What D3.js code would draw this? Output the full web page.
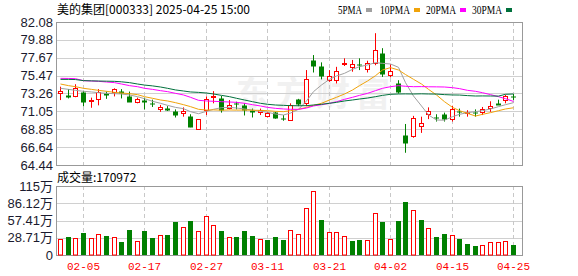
<!DOCTYPE html>
<html>
<head>
<meta charset="utf-8">
<script src="https://cdn.jsdelivr.net/npm/d3@7"></script>
<style>
body { margin: 0; background: #fff; }
</style>
</head>
<body>
<svg width="578" height="276"></svg>
<script>
var dates = ["2025-01-23","2025-01-24","2025-01-27",
"2025-02-05","2025-02-06","2025-02-07","2025-02-10","2025-02-11","2025-02-12","2025-02-13","2025-02-14",
"2025-02-17","2025-02-18","2025-02-19","2025-02-20","2025-02-21","2025-02-24","2025-02-25","2025-02-26","2025-02-27","2025-02-28",
"2025-03-03","2025-03-04","2025-03-05","2025-03-06","2025-03-07","2025-03-10","2025-03-11","2025-03-12","2025-03-13","2025-03-14",
"2025-03-17","2025-03-18","2025-03-19","2025-03-20","2025-03-21","2025-03-24","2025-03-25","2025-03-26","2025-03-27","2025-03-28","2025-03-31",
"2025-04-01","2025-04-02","2025-04-03","2025-04-07","2025-04-08","2025-04-09","2025-04-10","2025-04-11",
"2025-04-14","2025-04-15","2025-04-16","2025-04-17","2025-04-18","2025-04-21","2025-04-22","2025-04-23","2025-04-24","2025-04-25"];

var open = [73.4,73.1,72.95,73.5,72.3,72.55,73.35,73.45,73.6,72.95,
72.25,72.45,72.1,71.3,71.5,71.1,70.8,70.5,68.85,71.2,
72.9,72.65,71.45,72.05,71.85,71.2,70.95,70.5,70.95,70.2,
70.05,72.55,72.1,77.4,76.6,74.85,75.0,76.95,76.55,76.9,
76.35,77.05,78.2,75.5,74.6,68.2,68.0,69.25,70.7,70.4,
70.7,70.2,71.15,70.9,71.0,71.0,71.4,72.1,72.45,72.95];
var close = [73.6,72.8,73.9,72.25,72.4,73.45,73.1,73.8,73.4,72.25,
72.6,72.2,71.95,71.55,71.2,70.6,71.1,69.1,70.1,72.55,
73.0,71.15,71.85,71.95,71.25,70.9,71.2,70.9,70.15,70.05,
71.9,71.95,75.0,76.65,75.35,75.4,76.05,77.05,76.9,76.8,
77.05,78.6,75.65,76.0,73.55,67.2,70.2,69.6,71.1,70.3,
70.05,71.4,71.05,71.0,70.9,71.4,71.7,71.9,72.95,72.85];
var high = [74.1,73.8,74.4,73.6,72.75,73.8,73.5,73.9,73.8,73.5,
72.75,72.75,72.5,71.85,71.7,71.3,71.55,70.7,70.1,72.9,
73.55,72.95,72.45,72.25,72.05,71.4,71.4,71.0,71.0,70.6,
72.05,72.6,76.15,78.0,77.1,76.15,76.55,77.6,77.4,77.6,
77.3,80.7,78.85,76.85,74.9,69.5,70.5,70.4,71.55,70.7,
70.9,71.75,71.4,71.2,71.3,71.6,72.3,72.5,73.1,73.2];
var low = [72.45,72.65,72.8,71.7,71.5,71.8,72.6,72.9,72.65,72.25,
72.05,71.3,71.6,71.0,71.1,70.3,70.4,69.1,68.85,70.6,
72.05,70.9,71.3,71.3,70.55,70.3,70.6,70.3,70.15,69.9,
69.95,71.7,71.7,75.85,75.0,74.7,74.5,76.65,75.95,76.15,
75.85,76.75,75.3,75.25,73.25,65.95,67.8,68.4,70.1,69.8,
69.8,69.8,70.4,70.4,70.4,70.6,71.0,71.9,72.05,72.45];

// volume in 万 (10k lots), volUp: 1 = red, 0 = green
var volume = [26.7,30,28.3,37.2,28.3,35,31.7,30,22.2,41.7,
23.3,40,28.9,33.9,32.8,55,46.7,56.7,40,65,
50,40,30,29.4,40,31.7,26.7,25,30,25.6,
41.1,34.4,77.8,106.7,58.3,38.3,38.3,31.1,23.3,25,
25,69.4,55,26.1,56.7,88.3,74.4,58.3,44.4,30,
35,32.8,26.7,18.3,15,16.1,21.7,21.7,23.3,17.1];
var volUp = [1,0,1,0,1,1,0,1,0,0,
1,0,0,1,0,0,1,0,1,1,
1,0,1,0,0,0,1,0,0,0,
1,1,1,1,0,1,1,1,0,0,
1,1,0,1,0,0,1,0,1,0,
0,1,0,0,0,1,1,1,1,0];

var ma5 = [73.9,73.77,73.65,73.53,73.45,73.36,73.28,73.24,73.2,73.08,
72.87,72.62,72.3,72.05,71.8,71.55,71.39,71.02,70.77,71.06,
71.31,71.51,71.55,71.47,71.35,71.22,71.06,70.94,70.73,70.61,
70.85,71.31,72.34,73.49,74.31,75.01,75.42,75.75,76.24,76.57,
76.78,77.07,76.98,76.9,76.49,74.6,72.95,71.72,70.61,69.99,
69.97,70.4,70.69,70.9,71.02,71.14,71.35,71.64,71.88,72.13];
var ma10 = [74.43,74.23,74.1,73.9,73.77,73.65,73.53,73.4,73.32,73.24,
73.12,72.87,72.67,72.46,72.34,72.13,71.88,71.64,71.31,71.22,
71.24,71.2,71.23,71.21,71.22,71.2,71.18,71.14,71.06,71.02,
71.14,71.31,71.55,71.8,72.05,72.46,72.79,73.2,73.69,74.23,
74.8,75.46,76.16,76.45,76.16,75.6,75.01,74.43,73.77,73.08,
72.25,71.55,71.14,70.81,70.48,70.69,70.9,71.14,71.35,71.5];
var ma20 = [75.13,75.12,75.09,74.84,74.8,74.76,74.68,74.6,74.43,74.23,
74.1,73.9,73.77,73.61,73.49,73.28,73.08,72.79,72.42,72.34,
72.3,72.25,72.21,72.17,72.05,71.88,71.72,71.55,71.43,71.35,
71.31,71.3,71.47,71.72,71.88,72.05,72.25,72.54,72.79,73.03,
73.28,73.61,73.9,74.1,74.23,74.15,74.1,74.11,74.09,74.08,
74.06,73.98,73.86,73.65,73.53,73.36,73.12,72.87,72.62,72.28];
var ma30 = [75.0,75.0,74.98,74.85,74.82,74.8,74.78,74.76,74.7,74.6,
74.43,74.3,74.2,74.06,73.9,73.7,73.57,73.45,73.4,73.32,
73.2,73.03,72.87,72.67,72.46,72.25,72.05,71.93,71.84,71.8,
71.76,71.75,71.76,71.84,71.93,72.05,72.17,72.34,72.46,72.58,
72.7,72.87,73.03,73.16,73.2,73.21,73.2,73.22,73.2,73.19,
73.12,73.08,73.07,73.0,72.95,72.96,72.95,72.94,73.16,73.2];

var priceTicks = [64.44,66.64,68.85,71.05,73.26,75.47,77.67,79.88,82.08];
var volTicks = [0,28.71,57.41,86.12,114.83];
var volTickLabels = ["0","28.71万","57.41万","86.12万","115万"];
var dateTicks = ["2025-02-05","2025-02-17","2025-02-27","2025-03-11","2025-03-21","2025-04-02","2025-04-15","2025-04-25"];
var maNames = ["5PMA","10PMA","20PMA","30PMA"];
var maColors = ["#a0a0a0","#f0a30a","#ff00ff","#00703c"];

var RED = "#ff0000", GREEN = "#008000";

var svg = d3.select("svg");
var left = 56, right = 522;
var pTop = 22, pBottom = 165;
var vTop = 186, vBottom = 255;

var x = d3.scaleBand().domain(dates).range([left, left + 60 * 7.68]);
var cx = function (d) { return Math.round(x(d) + x.bandwidth() / 2) + 0.5; };
var yP = d3.scaleLinear().domain([64.44, 82.08]).range([pBottom, pTop]);
var yV = d3.scaleLinear().domain([0, 114.83]).range([vBottom, vTop]);

// watermark
svg.append("text")
.attr("x", 236).attr("y", 106)
.attr("font-family", "Noto Sans CJK SC")
.attr("font-size", "34px")
.attr("font-weight", "bold")
.attr("letter-spacing", "6px")
.attr("fill", "#f1f1f1")
.text("东方财富");

// grid - price
svg.append("g").selectAll("line").data(priceTicks).enter().append("line")
.attr("x1", left).attr("x2", right)
.attr("y1", function (d) { return Math.round(yP(d)) + 0.5; })
.attr("y2", function (d) { return Math.round(yP(d)) + 0.5; })
.attr("stroke", "#d0d0d0");

svg.append("g").selectAll("line").data(volTicks).enter().append("line")
.attr("x1", left).attr("x2", right)
.attr("y1", function (d) { return Math.round(yV(d)) + 0.5; })
.attr("y2", function (d) { return Math.round(yV(d)) + 0.5; })
.attr("stroke", "#d0d0d0");

// vertical dashed lines
[[pTop, pBottom], [vTop, vBottom]].forEach(function (r) {
    svg.append("g").selectAll("line").data(dateTicks).enter().append("line")
    .attr("x1", cx).attr("x2", cx)
    .attr("y1", r[0]).attr("y2", r[1])
    .attr("stroke", "#c8c8c8")
    .attr("stroke-dasharray", "4,3");
});

// borders
svg.append("rect").attr("x", left + 0.5).attr("y", pTop + 0.5)
.attr("width", right - left).attr("height", pBottom - pTop)
.attr("fill", "none").attr("stroke", "#999");
svg.append("rect").attr("x", left + 0.5).attr("y", vTop + 0.5)
.attr("width", right - left).attr("height", vBottom - vTop)
.attr("fill", "none").attr("stroke", "#999");

// y labels
svg.append("g").selectAll("text").data(priceTicks).enter().append("text")
.attr("x", 53).attr("y", function (d) { return yP(d) + 4.5; })
.attr("text-anchor", "end")
.attr("font-family", "Liberation Sans, Arial")
.attr("font-size", "13px")
.attr("fill", "#1a1a2e")
.text(function (d) { return d.toFixed(2); });

svg.append("g").selectAll("text").data(volTicks).enter().append("text")
.attr("x", 53).attr("y", function (d) { return yV(d) + 4.5; })
.attr("text-anchor", "end")
.attr("font-family", "Liberation Sans, Noto Sans CJK SC")
.attr("font-size", "13px")
.attr("fill", "#1a1a2e")
.text(function (d, i) { return volTickLabels[i]; });

// date labels
svg.append("g").selectAll("text").data(dateTicks).enter().append("text")
.attr("x", cx).attr("y", 270)
.attr("text-anchor", "middle")
.attr("font-family", "Liberation Mono, monospace")
.attr("font-size", "11px")
.attr("fill", RED)
.text(function (d) { return d.slice(5); });

// candles
var candles = svg.append("g").selectAll("g").data(dates).enter().append("g");
candles.append("line")
.attr("x1", cx).attr("x2", cx)
.attr("y1", function (d, i) { return yP(high[i]); })
.attr("y2", function (d, i) { return yP(low[i]); })
.attr("stroke", function (d, i) { return close[i] >= open[i] ? RED : GREEN; });
candles.append("rect")
.attr("x", function (d, i) { return close[i] >= open[i] ? cx(d) - 2 : cx(d) - 2.5; })
.attr("width", function (d, i) { return close[i] >= open[i] ? 4 : 5; })
.attr("y", function (d, i) { return Math.round(yP(Math.max(open[i], close[i]))) + 0.5; })
.attr("height", function (d, i) { return Math.max(1, Math.round(Math.abs(yP(open[i]) - yP(close[i])))); })
.attr("fill", function (d, i) { return close[i] >= open[i] ? "#fff" : GREEN; })
.attr("stroke", function (d, i) { return close[i] >= open[i] ? RED : "none"; });

// moving averages
var mas = [ma5, ma10, ma20, ma30];
mas.forEach(function (m, k) {
    var line = d3.line()
    .x(function (d, i) { return cx(dates[i]); })
    .y(function (d) { return yP(d); });
    svg.append("path")
    .datum(m)
    .attr("d", line)
    .attr("fill", "none")
    .attr("stroke", maColors[k])
    .attr("stroke-width", 1);
});

// volume bars
svg.append("g").selectAll("rect").data(volume).enter().append("rect")
.attr("x", function (d, i) { return volUp[i] ? cx(dates[i]) - 2 : cx(dates[i]) - 2.5; })
.attr("width", function (d, i) { return volUp[i] ? 4 : 5; })
.attr("y", function (d, i) { return Math.round(yV(d)) + (volUp[i] ? 0.5 : 0); })
.attr("height", function (d, i) { return Math.round(vBottom - yV(d)) - (volUp[i] ? 0.5 : 0); })
.attr("fill", function (d, i) { return volUp[i] ? "#fff" : GREEN; })
.attr("stroke", function (d, i) { return volUp[i] ? RED : "none"; });

// title + legend
svg.append("text")
.attr("x", 57).attr("y", 14)
.attr("font-family", "Noto Sans CJK SC")
.attr("font-size", "12px")
.attr("fill", "#000")
.text("美的集团[000333] 2025-04-25 15:00");

var legendX = [338, 380, 426, 472];
maNames.forEach(function (n, k) {
    svg.append("text")
    .attr("x", legendX[k]).attr("y", 13.5)
    .attr("font-family", "Liberation Serif, serif")
    .attr("font-size", "12.5px")
    .attr("textLength", n.length * 6)
    .attr("lengthAdjust", "spacingAndGlyphs")
    .attr("fill", "#000")
    .text(n);
    svg.append("rect")
    .attr("x", legendX[k] + n.length * 6 + 4).attr("y", 8)
    .attr("width", 6).attr("height", 4)
    .attr("fill", maColors[k]);
});

svg.append("text")
.attr("x", 57).attr("y", 182)
.attr("font-family", "Noto Sans CJK SC")
.attr("font-size", "12px")
.attr("fill", "#000")
.text("成交量:170972");
</script>
</body>
</html>
